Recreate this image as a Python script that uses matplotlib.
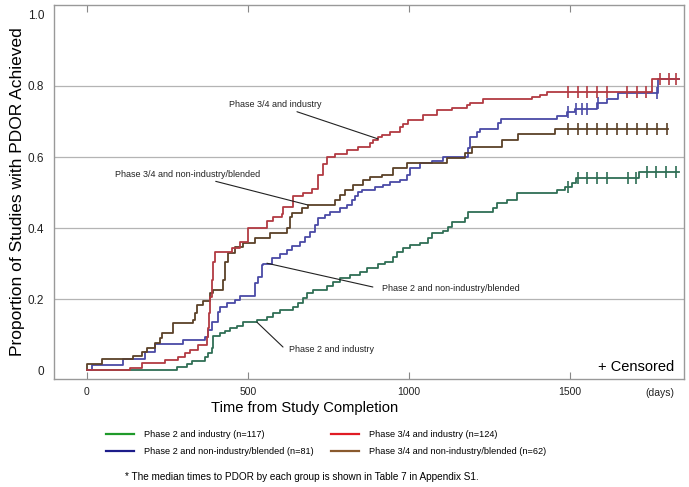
"""Proportion of studies with PDOR achieved vs. time from study completion."""
import matplotlib
matplotlib.use("Agg")
import matplotlib.pyplot as plt
from matplotlib.lines import Line2D

plt.rcParams["font.family"] = ["Liberation Sans", "DejaVu Sans"]

# ---- data (days, cumulative proportion) ----
p2_ind_t = [0, 280, 311, 326, 367, 376, 388, 391, 413, 429, 444, 466, 485, 528, 559, 578,
            599, 640, 655, 671, 683, 702, 745, 764, 786, 817, 848, 870, 904, 926, 950, 963,
            981, 1003, 1034, 1059, 1072, 1106, 1121, 1134, 1174, 1183, 1261, 1273, 1305,
            1336, 1460, 1485, 1506, 1519, 1714, 1839]
p2_ind_v = [0, 0.008, 0.017, 0.025, 0.037, 0.048, 0.062, 0.096, 0.104, 0.11, 0.118, 0.124,
            0.135, 0.141, 0.149, 0.16, 0.169, 0.178, 0.189, 0.203, 0.217, 0.225, 0.237, 0.248,
            0.259, 0.268, 0.276, 0.287, 0.298, 0.304, 0.318, 0.332, 0.344, 0.352, 0.358, 0.372,
            0.386, 0.392, 0.403, 0.417, 0.428, 0.445, 0.456, 0.47, 0.479, 0.498, 0.507, 0.516,
            0.527, 0.541, 0.558, 0.558]
p2_ind_cens_t = [1494, 1525, 1553, 1584, 1615, 1680, 1705, 1739, 1767, 1798, 1829]
p2_ind_cens_v = [0.516, 0.541, 0.541, 0.541, 0.541, 0.541, 0.541, 0.558, 0.558, 0.558, 0.558]

p2_non_t = [0, 16, 112, 180, 211, 298, 367, 376, 388, 407, 413, 435, 460, 475, 522, 531, 544,
            547, 575, 599, 621, 637, 662, 677, 693, 708, 717, 739, 755, 786, 808, 823, 832,
            842, 854, 895, 919, 941, 972, 994, 1003, 1034, 1072, 1106, 1183, 1190, 1211, 1221,
            1277, 1286, 1460, 1491, 1516, 1584, 1615, 1649, 1773, 1839]
p2_non_v = [0, 0.014, 0.031, 0.051, 0.073, 0.085, 0.093, 0.113, 0.135, 0.163, 0.178, 0.189,
            0.197, 0.21, 0.245, 0.262, 0.296, 0.30, 0.316, 0.327, 0.338, 0.349, 0.36, 0.375,
            0.389, 0.408, 0.428, 0.437, 0.445, 0.456, 0.465, 0.479, 0.49, 0.501, 0.507, 0.515,
            0.52, 0.53, 0.535, 0.55, 0.569, 0.583, 0.59, 0.60, 0.625, 0.656, 0.67, 0.68, 0.695,
            0.707, 0.715, 0.727, 0.735, 0.752, 0.763, 0.78, 0.82, 0.82]
p2_non_cens_t = [1494, 1519, 1537, 1553, 1587, 1770]
p2_non_cens_v = [0.727, 0.735, 0.735, 0.735, 0.752, 0.78]

p34_ind_t = [0, 134, 171, 242, 283, 304, 320, 345, 373, 376, 379, 382, 388, 391, 398, 450, 475,
             500, 559, 578, 606, 609, 640, 671, 699, 717, 733, 745, 770, 808, 842, 879, 888,
             904, 916, 941, 972, 981, 997, 1044, 1087, 1134, 1180, 1190, 1230, 1382, 1407,
             1429, 1755, 1839]
p34_ind_v = [0, 0.005, 0.02, 0.028, 0.037, 0.048, 0.056, 0.07, 0.093, 0.118, 0.16, 0.206,
             0.254, 0.305, 0.333, 0.343, 0.36, 0.40, 0.42, 0.43, 0.44, 0.46, 0.49, 0.50, 0.51,
             0.55, 0.58, 0.60, 0.608, 0.62, 0.628, 0.64, 0.648, 0.656, 0.662, 0.67, 0.685,
             0.693, 0.704, 0.718, 0.732, 0.738, 0.746, 0.752, 0.763, 0.769, 0.775, 0.783, 0.82,
             0.82]
p34_ind_cens_t = [1494, 1525, 1553, 1584, 1615, 1677, 1708, 1736, 1780, 1808, 1829]
p34_ind_cens_v = [0.783] * 8 + [0.82] * 3

p34_non_t = [0, 2, 47, 143, 171, 186, 211, 227, 233, 267, 329, 335, 342, 360, 382, 391, 422,
             429, 438, 460, 485, 522, 568, 621, 631, 637, 668, 686, 770, 786, 801, 826, 857,
             879, 916, 950, 994, 1118, 1174, 1196, 1289, 1339, 1454, 1804]
p34_non_v = [0, 0.016, 0.031, 0.039, 0.051, 0.062, 0.076, 0.09, 0.104, 0.132, 0.14, 0.16,
             0.183, 0.194, 0.217, 0.225, 0.254, 0.305, 0.33, 0.347, 0.357, 0.372, 0.386, 0.40,
             0.432, 0.441, 0.456, 0.465, 0.479, 0.493, 0.507, 0.521, 0.535, 0.544, 0.549,
             0.569, 0.583, 0.597, 0.61, 0.628, 0.648, 0.665, 0.679, 0.679]
p34_non_cens_t = [1494, 1525, 1553, 1584, 1615, 1646, 1677, 1708, 1739, 1770, 1801]
p34_non_cens_v = [0.679] * 11

x_ticks = [0, 500, 1000, 1500]
y_ticks = [0, 0.2, 0.4, 0.6, 0.8, 1.0]
y_tick_labels = ["0", "0.2", "0.4", "0.6", "0.8", "1.0"]
grid_levels = [0.2, 0.4, 0.6, 0.8]

curves = [
    (p2_ind_t, p2_ind_v, p2_ind_cens_t, p2_ind_cens_v, "#2f6e55"),
    (p2_non_t, p2_non_v, p2_non_cens_t, p2_non_cens_v, "#4a4aa6"),
    (p34_non_t, p34_non_v, p34_non_cens_t, p34_non_cens_v, "#5b4128"),
    (p34_ind_t, p34_ind_v, p34_ind_cens_t, p34_ind_cens_v, "#b23a42"),
]

fig = plt.figure(figsize=(6.89, 4.87), dpi=100)
ax = fig.add_axes([54 / 689, 1 - 379 / 487, 630 / 689, 374 / 487])

for lv in grid_levels:
    ax.axhline(lv, color="#b4b4b4", lw=0.9, zorder=0)

for t, v, ct, cv, col in curves:
    ax.step(t, v, where="post", color=col, lw=1.3, zorder=2)
    ax.plot(ct, cv, ls="none", marker="|", ms=8, mew=1.2, color=col, zorder=3)

ax.set_xlim(-102, 1854)
ax.set_ylim(-0.025, 1.028)
ax.set_xticks(x_ticks)
ax.set_xticklabels([str(x) for x in x_ticks], fontsize=7.5, color="#222222")
ax.set_yticks(y_ticks)
ax.set_yticklabels(y_tick_labels, fontsize=8.5, color="#222222")
ax.tick_params(axis="x", direction="in", length=5, top=True, color="#888888", pad=6)
ax.tick_params(axis="y", length=0, pad=7)
for s in ax.spines.values():
    s.set_color("#999999")
    s.set_linewidth(1.0)

ax.set_ylabel("Proportion of Studies with PDOR Achieved", fontsize=12.5)
ax.yaxis.set_label_coords(-0.046, 0.5)
ax.set_xlabel("Time from Study Completion", fontsize=10.6)
ax.xaxis.set_label_coords(0.398, -0.058)
ax.text(1780, -0.05, "(days)", fontsize=7.5, color="#222222", ha="center", va="top")
ax.text(1825, -0.012, "+ Censored", fontsize=10.5, ha="right", va="bottom")

# callouts
ann = dict(fontsize=6.5, color="#222222")
arrow = dict(arrowstyle="-", color="#222222", lw=0.8, shrinkA=0, shrinkB=0)
ax.annotate("Phase 3/4 and industry", xy=(904, 0.651), xytext=(585, 0.748),
            ha="center", va="center", arrowprops=arrow, **ann)
ax.annotate("Phase 3/4 and non-industry/blended", xy=(686, 0.465), xytext=(312, 0.552),
            ha="center", va="center", arrowprops=arrow, **ann)
ax.annotate("", xy=(888, 0.234), xytext=(559, 0.301), arrowprops=arrow)
ax.text(916, 0.231, "Phase 2 and non-industry/blended", ha="left", va="center", **ann)
ax.annotate("", xy=(609, 0.065), xytext=(528, 0.135), arrowprops=arrow)
ax.text(627, 0.058, "Phase 2 and industry", ha="left", va="center", **ann)

handles = [
    Line2D([], [], color="#1f9a2a", lw=1.6),
    Line2D([], [], color="#1c1c8a", lw=1.6),
    Line2D([], [], color="#e01b24", lw=1.6),
    Line2D([], [], color="#8a5a2e", lw=1.6),
]
labels = [
    "Phase 2 and industry (n=117)",
    "Phase 2 and non-industry/blended (n=81)",
    "Phase 3/4 and industry (n=124)",
    "Phase 3/4 and non-industry/blended (n=62)",
]
fig.legend(handles, labels, ncol=2, loc="center", bbox_to_anchor=(0.473, 1 - 443 / 487),
           frameon=False, fontsize=6.6, handlelength=3.05, columnspacing=1.85,
           labelspacing=0.9, handletextpad=1.1)

fig.text(0.438, 1 - 477 / 487,
         "* The median times to PDOR by each group is shown in Table 7 in Appendix S1.",
         ha="center", va="center", fontsize=7.2)

fig.savefig("out.png", dpi=100, facecolor="white")
